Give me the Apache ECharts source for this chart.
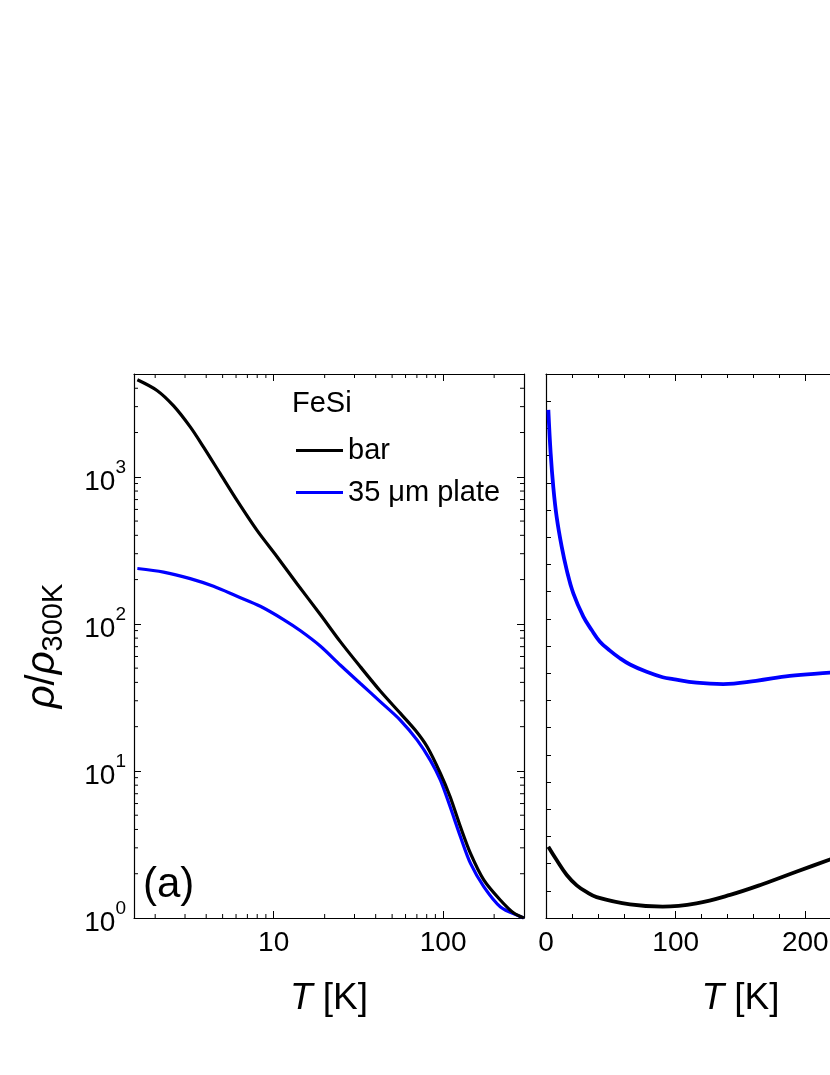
<!DOCTYPE html>
<html>
<head>
<meta charset="utf-8">
<script src="https://cdn.jsdelivr.net/npm/echarts@6/dist/echarts.min.js"></script>
<style>
html,body{margin:0;padding:0;background:#fff;}
#chart{width:830px;height:1075px;}
</style>
</head>
<body>
<div id="chart"></div>
<script>
// ---- data ----
// panel (a): log-log, rho/rho300K vs T
const barT_log   = [1.57, 2.05, 2.57, 3.22, 3.86, 4.84, 6.08, 7.98, 10.5, 13.7, 18.9, 24.8, 32.5, 42.7, 56.0, 68.6, 80.5, 96.4, 110, 126.5, 145, 174, 218, 261, 299];
const barRho_log = [4570, 3865, 3033, 2183, 1592, 1050, 691, 432, 285, 188, 115.3, 75.4, 51.0, 34.8, 24.6, 18.9, 14.6, 9.62, 6.67, 4.17, 2.75, 1.81, 1.32, 1.08, 1.0];
const plateT_log   = [1.57, 2.24, 3.22, 4.42, 6.08, 8.34, 11.5, 14.4, 18.9, 24.8, 32.5, 42.7, 56.0, 70.3, 84.1, 96.4, 110, 126.5, 145, 174, 218, 286, 299];
const plateRho_log = [238, 225, 203, 180, 154, 131.7, 106.6, 89.8, 70.5, 52.3, 39.3, 29.5, 22.1, 16.2, 11.8, 8.66, 5.70, 3.57, 2.35, 1.63, 1.19, 1.02, 1.0];
// panel (b): linear axes (right-hand scale cut off in the figure)
const plateT_lin = [1.8, 3.6, 5.6, 8.2, 12.1, 16, 21, 28.8, 35.2, 41.6, 49.3, 57, 64.8, 77.6, 90, 98, 116, 136.7, 162, 188, 219, 225];
const plateY_lin = [18.68, 17.08, 15.86, 14.75, 13.65, 12.79, 11.94, 11.08, 10.59, 10.16, 9.83, 9.55, 9.32, 9.05, 8.85, 8.78, 8.65, 8.60, 8.72, 8.90, 9.02, 9.05];
const barT_lin = [1.8, 8.2, 16, 23.7, 31.4, 39, 64.8, 90, 116, 142, 167.5, 193, 219, 225];
const barY_lin = [2.62, 2.13, 1.58, 1.20, 0.95, 0.77, 0.50, 0.42, 0.54, 0.85, 1.25, 1.70, 2.15, 2.25];
// minor tick values for the log axes
const xMinorLog = [2, 3, 4, 5, 6, 7, 8, 9, 20, 30, 40, 50, 60, 70, 80, 90, 200];
const yMinorLog = [2, 3, 4, 5, 6, 7, 8, 9, 20, 30, 40, 50, 60, 70, 80, 90, 200, 300, 400, 500, 600, 700, 800, 900, 2000, 3000, 4000];
const xLabelsLog = [10, 100];
const seriesNames = ['bar', '35 \u03bcm plate'];

const FONT = '"Liberation Sans", Arial, sans-serif';
const XMIN_L = 1.5, XMAX_L = 300, YMIN_L = 1, YMAX_L = 5000;
const XMIN_R = 0, XMAX_R = 300, YMIN_R = 0, YMAX_R = 20;

const zip = (a, b) => a.map((v, i) => [v, b[i]]);
const isPow10 = v => { const e = Math.round(Math.log10(v)); return Math.abs(v - Math.pow(10, e)) < 1e-6 * v; };

const tickBase = { show: true, inside: true, length: 7, lineStyle: { color: '#000', width: 1 } };
const lineBase = { show: true, onZero: false, lineStyle: { color: '#000', width: 1.2 } };

const chart = echarts.init(document.getElementById('chart'));
const option = {
  animation: false,
  backgroundColor: '#fff',
  textStyle: { fontFamily: FONT },
  grid: [
    { left: 134, top: 374, width: 390, height: 544, outerBoundsMode: 'none', containLabel: false },
    { left: 546, top: 374, width: 389, height: 544, outerBoundsMode: 'none', containLabel: false }
  ],
  legend: {
    data: seriesNames,
    orient: 'vertical',
    left: 291, top: 431,
    icon: 'rect',
    itemWidth: 47, itemHeight: 3, itemGap: 13,
    textStyle: { fontSize: 29, color: '#000', fontFamily: FONT },
    selectedMode: false
  },
  graphic: [
    { type: 'text', left: 292, top: 389, style: { text: 'FeSi', fill: '#000', font: '29px ' + FONT } },
    { type: 'text', left: 143, top: 864, style: { text: '(a)', fill: '#000', font: '42px ' + FONT } }
  ],
  xAxis: [
    { // 0: left panel bottom (log)
      type: 'log', gridIndex: 0, position: 'bottom', min: XMIN_L, max: XMAX_L, logBase: 10,
      axisLine: lineBase, axisTick: tickBase, splitLine: { show: false },
      axisLabel: { fontSize: 28, color: '#000', margin: 11, fontFamily: FONT,
        formatter: v => (xLabelsLog.indexOf(Math.round(v)) >= 0 && isPow10(v)) ? String(Math.round(v)) : '' },
      name: '{i|T} [K]', nameLocation: 'middle', nameGap: 62,
      nameTextStyle: { fontSize: 37, color: '#000', fontFamily: FONT, rich: { i: { fontSize: 37, fontStyle: 'italic', fontFamily: FONT } } }
    },
    { // 1: right panel bottom (linear)
      type: 'value', gridIndex: 1, position: 'bottom', min: XMIN_R, max: XMAX_R, interval: 100,
      axisLine: lineBase, axisTick: tickBase, splitLine: { show: false },
      minorTick: { show: true, splitNumber: 5, length: 4, lineStyle: { color: '#000', width: 1 } },
      axisLabel: { fontSize: 28, color: '#000', margin: 11, fontFamily: FONT },
      name: '{i|T} [K]', nameLocation: 'middle', nameGap: 62,
      nameTextStyle: { fontSize: 37, color: '#000', fontFamily: FONT, rich: { i: { fontSize: 37, fontStyle: 'italic', fontFamily: FONT } } }
    },
    { // 2: left panel top mirror
      type: 'log', gridIndex: 0, position: 'top', min: XMIN_L, max: XMAX_L, logBase: 10,
      axisLine: lineBase, axisTick: tickBase, axisLabel: { show: false }, splitLine: { show: false }
    },
    { // 3: right panel top mirror
      type: 'value', gridIndex: 1, position: 'top', min: XMIN_R, max: XMAX_R, interval: 100,
      axisLine: lineBase, axisTick: tickBase, axisLabel: { show: false }, splitLine: { show: false },
      minorTick: { show: true, splitNumber: 5, length: 4, lineStyle: { color: '#000', width: 1 } }
    }
  ],
  yAxis: [
    { // 0: left panel left (log)
      type: 'log', gridIndex: 0, position: 'left', min: YMIN_L, max: YMAX_L, logBase: 10,
      axisLine: lineBase, axisTick: tickBase, splitLine: { show: false },
      axisLabel: { color: '#000', margin: 8, fontFamily: FONT,
        formatter: v => { if (!isPow10(v)) return ''; return '{b|10}{sup|' + Math.round(Math.log10(v)) + '}'; },
        rich: {
          b: { fontSize: 28, lineHeight: 38, color: '#000', fontFamily: FONT, verticalAlign: 'bottom' },
          sup: { fontSize: 19, color: '#000', fontFamily: FONT, verticalAlign: 'top' }
        }
      },
      name: '{i|\u03c1}{n|/}{i|\u03c1}{s|300K}', nameLocation: 'middle', nameGap: 66,
      nameTextStyle: { color: '#000', fontFamily: FONT,
        rich: {
          i: { fontSize: 40, lineHeight: 50, fontStyle: 'italic', color: '#000', fontFamily: FONT },
          n: { fontSize: 40, lineHeight: 50, color: '#000', fontFamily: FONT },
          s: { fontSize: 29, color: '#000', fontFamily: FONT, verticalAlign: 'bottom' }
        }
      }
    },
    { // 1: right panel left (linear, unlabeled)
      type: 'value', gridIndex: 1, position: 'left', min: YMIN_R, max: YMAX_R, interval: 1,
      axisLine: lineBase, axisTick: Object.assign({}, tickBase, { length: 5 }), axisLabel: { show: false }, splitLine: { show: false }
    },
    { // 2: left panel right mirror
      type: 'log', gridIndex: 0, position: 'right', min: YMIN_L, max: YMAX_L, logBase: 10,
      axisLine: lineBase, axisTick: tickBase, axisLabel: { show: false }, splitLine: { show: false }
    },
    { // 3: right panel right mirror
      type: 'value', gridIndex: 1, position: 'right', min: YMIN_R, max: YMAX_R, interval: 1,
      axisLine: lineBase, axisTick: Object.assign({}, tickBase, { length: 5 }), axisLabel: { show: false }, splitLine: { show: false }
    }
  ],
  series: [
    { name: seriesNames[0], type: 'line', xAxisIndex: 0, yAxisIndex: 0, data: zip(barT_log, barRho_log),
      smooth: 0.3, showSymbol: false, symbol: 'none', color: '#000', lineStyle: { color: '#000', width: 3.2 }, z: 4 },
    { name: seriesNames[1], type: 'line', xAxisIndex: 0, yAxisIndex: 0, data: zip(plateT_log, plateRho_log),
      smooth: 0.3, showSymbol: false, symbol: 'none', color: '#0000ff', lineStyle: { color: '#0000ff', width: 3.2 }, z: 3 },
    { name: seriesNames[1], type: 'line', xAxisIndex: 1, yAxisIndex: 1, data: zip(plateT_lin, plateY_lin),
      smooth: 0.4, showSymbol: false, symbol: 'none', color: '#0000ff', lineStyle: { color: '#0000ff', width: 3.8 }, z: 3 },
    { name: seriesNames[0], type: 'line', xAxisIndex: 1, yAxisIndex: 1, data: zip(barT_lin, barY_lin),
      smooth: 0.4, showSymbol: false, symbol: 'none', color: '#000', lineStyle: { color: '#000', width: 3.8 }, z: 4 },
    { // minor ticks of the log x axes (bottom + top), placed through the axis scale
      name: 'xminor', type: 'custom', xAxisIndex: 0, yAxisIndex: 0, silent: true, z: 5,
      data: xMinorLog.map(v => [v, YMIN_L]),
      renderItem: (params, api) => {
        const v = api.value(0);
        const b = api.coord([v, YMIN_L]), t = api.coord([v, YMAX_L]);
        return { type: 'group', children: [
          { type: 'line', shape: { x1: b[0], y1: b[1], x2: b[0], y2: b[1] - 4 }, style: { stroke: '#000', lineWidth: 1 } },
          { type: 'line', shape: { x1: t[0], y1: t[1], x2: t[0], y2: t[1] + 4 }, style: { stroke: '#000', lineWidth: 1 } }
        ] };
      }
    },
    { // minor ticks of the log y axes (left + right)
      name: 'yminor', type: 'custom', xAxisIndex: 0, yAxisIndex: 0, silent: true, z: 5,
      data: yMinorLog.map(v => [XMIN_L, v]),
      renderItem: (params, api) => {
        const v = api.value(1);
        const l = api.coord([XMIN_L, v]), r = api.coord([XMAX_L, v]);
        return { type: 'group', children: [
          { type: 'line', shape: { x1: l[0], y1: l[1], x2: l[0] + 4, y2: l[1] }, style: { stroke: '#000', lineWidth: 1 } },
          { type: 'line', shape: { x1: r[0], y1: r[1], x2: r[0] - 4, y2: r[1] }, style: { stroke: '#000', lineWidth: 1 } }
        ] };
      }
    }
  ]
};
chart.setOption(option);
</script>
</body>
</html>
